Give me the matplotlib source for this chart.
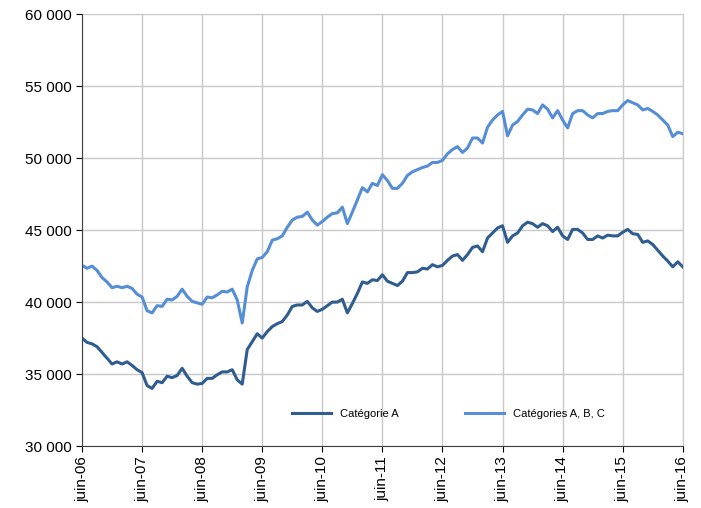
import matplotlib.pyplot as plt
import matplotlib.ticker as mticker
import numpy as np

plt.rcParams['font.family'] = ['Liberation Sans', 'DejaVu Sans']

# monthly values (thousands), June 2006 -> June 2016
cat_a = [37.5, 37.2, 37.1, 36.9, 36.5, 36.1, 35.7, 35.85, 35.7, 35.85, 35.6, 35.3,
         35.1, 34.2, 34.0, 34.5, 34.4, 34.85, 34.75, 34.9, 35.4, 34.85, 34.4, 34.3,
         34.35, 34.7, 34.7, 34.95, 35.15, 35.15, 35.3, 34.6, 34.3, 36.7, 37.25, 37.8,
         37.5, 37.95, 38.3, 38.5, 38.65, 39.1, 39.7, 39.8, 39.8, 40.05, 39.6, 39.35,
         39.5, 39.75, 40.0, 40.0, 40.2, 39.25, 39.9, 40.6, 41.4, 41.3, 41.55, 41.5,
         41.9, 41.45, 41.3, 41.15, 41.45, 42.05, 42.05, 42.1, 42.35, 42.3, 42.6, 42.45,
         42.55, 42.9, 43.2, 43.3, 42.9, 43.3, 43.8, 43.9, 43.5, 44.45, 44.8, 45.15,
         45.3, 44.15, 44.6, 44.8, 45.3, 45.55, 45.45, 45.2, 45.45, 45.3, 44.9, 45.2,
         44.6, 44.35, 45.05, 45.05, 44.8, 44.35, 44.35, 44.6, 44.45, 44.65, 44.6, 44.6,
         44.85, 45.05, 44.75, 44.7, 44.15, 44.25, 44.0, 43.6, 43.2, 42.85, 42.45, 42.8,
         42.45]
cat_abc = [42.55, 42.35, 42.5, 42.2, 41.7, 41.4, 41.0, 41.1, 41.0, 41.1, 40.95, 40.55,
           40.35, 39.4, 39.25, 39.75, 39.7, 40.2, 40.15, 40.4, 40.9, 40.4, 40.05, 39.95,
           39.85, 40.35, 40.3, 40.5, 40.75, 40.7, 40.9, 40.15, 38.55, 41.05, 42.2, 43.0,
           43.1, 43.5, 44.3, 44.4, 44.6, 45.2, 45.7, 45.9, 45.95, 46.25, 45.7, 45.35,
           45.6, 45.9, 46.15, 46.2, 46.6, 45.45, 46.25, 47.1, 47.95, 47.65, 48.25, 48.1,
           48.85, 48.45, 47.9, 47.9, 48.25, 48.8, 49.05, 49.2, 49.35, 49.45, 49.7, 49.7,
           49.85, 50.3, 50.6, 50.8, 50.4, 50.7, 51.4, 51.4, 51.05, 52.15, 52.65, 53.0,
           53.25, 51.55, 52.3, 52.55, 53.0, 53.4, 53.35, 53.1, 53.7, 53.4, 52.8, 53.3,
           52.65, 52.1, 53.1, 53.3, 53.3, 53.0, 52.8, 53.1, 53.1, 53.25, 53.3, 53.3,
           53.7, 54.0, 53.85, 53.7, 53.35, 53.45, 53.25, 53.0, 52.65, 52.3, 51.5, 51.8,
           51.7]
tick_labels = ['juin-%02d' % y for y in range(6, 17)]

months = np.arange(len(cat_a))
fig = plt.figure(figsize=(7.01, 5.08), dpi=100)
ax = fig.add_axes([0.117, 0.122, 0.857, 0.850])

ax.plot(months, np.array(cat_a) * 1000, color='#2F5D90', lw=2.2, label='Catégorie A')
ax.plot(months, np.array(cat_abc) * 1000, color='#558ED5', lw=2.2, label='Catégories A, B, C')

ax.set_xlim(0, 120)
ax.set_ylim(30000, 60000)
ax.set_xticks(np.arange(0, 121, 12))
ax.set_xticklabels(tick_labels, rotation=90, fontsize=11)
ax.set_yticks(np.arange(30000, 60001, 5000))
ax.yaxis.set_major_formatter(mticker.FuncFormatter(lambda v, p: f'{int(v):,}'.replace(',', ' ')))
ax.tick_params(axis='y', labelsize=11, length=4)
ax.tick_params(axis='x', length=4)
ax.grid(True, color='#C8C8C8', lw=1)
ax.set_axisbelow(True)
for s in ['left', 'bottom']:
    ax.spines[s].set_color('#404040')
ax.spines['top'].set_visible(False)
ax.spines['right'].set_color('#C8C8C8')

ax.legend(loc='lower center', bbox_to_anchor=(0.61, 0.04), ncol=2, frameon=False,
          fontsize=8, handlelength=3.5, columnspacing=6)

fig.savefig('out.png', dpi=100)
